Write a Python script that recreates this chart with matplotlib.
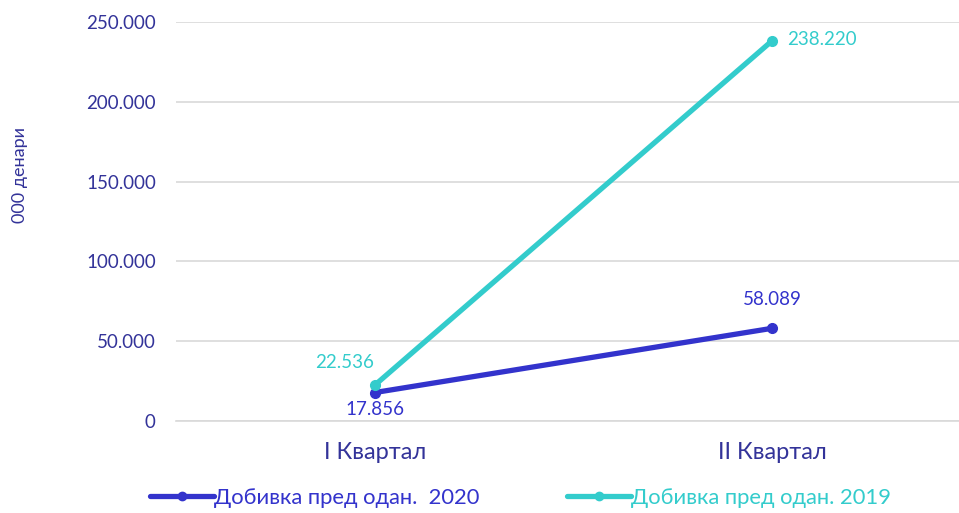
import matplotlib.pyplot as plt
from matplotlib.ticker import FuncFormatter

plt.rcParams["font.family"] = ["Lato", "DejaVu Sans"]

categories = ["I Квартал", "II Квартал"]
profit_2020 = [17856, 58089]
profit_2019 = [22536, 238220]
label_2020 = "Добивка пред одан.  2020"
label_2019 = "Добивка пред одан. 2019"
y_ticks = [0, 50000, 100000, 150000, 200000, 250000]

c2020 = "#3333cc"
c2019 = "#33cccc"
text_c = "#333399"


def fmt(v, pos=None):
    return f"{int(v):,}".replace(",", ".")


fig = plt.figure(figsize=(9.59, 5.13), dpi=100)
ax = fig.add_axes([0.1835, 0.1793, 0.8165, 0.7777])

x = list(range(len(categories)))
ax.plot(x, profit_2020, color=c2020, lw=3.8, marker="o", ms=7, label=label_2020, solid_capstyle="round")
ax.plot(x, profit_2019, color=c2019, lw=3.8, marker="o", ms=7, label=label_2019, solid_capstyle="round")

# подписи на вредностите
ax.annotate(fmt(profit_2020[0]), (0, profit_2020[0]), xytext=(0, -12), textcoords="offset points",
            ha="center", va="center", color=c2020, fontsize=13.5)
ax.annotate(fmt(profit_2020[1]), (1, profit_2020[1]), xytext=(0, 21), textcoords="offset points",
            ha="center", va="center", color=c2020, fontsize=13.5)
ax.annotate(fmt(profit_2019[0]), (0, profit_2019[0]), xytext=(-22, 16), textcoords="offset points",
            ha="center", va="center", color=c2019, fontsize=13.5)
ax.annotate(fmt(profit_2019[1]), (1, profit_2019[1]), xytext=(11, 1), textcoords="offset points",
            ha="left", va="center", color=c2019, fontsize=13.5)

ax.set_xlim(-0.501, 1.471)
ax.set_ylim(0, 250000)
ax.set_yticks(y_ticks)
ax.yaxis.set_major_formatter(FuncFormatter(fmt))
ax.set_xticks(x)
ax.set_xticklabels(categories)

ax.grid(True, axis="y", color="#d9d9d9", lw=1.2)
ax.set_axisbelow(True)
for s in ["top", "right", "left"]:
    ax.spines[s].set_visible(False)
ax.spines["bottom"].set_color("#d9d9d9")
ax.spines["bottom"].set_linewidth(1.2)
ax.tick_params(axis="both", length=0, labelcolor=text_c)
ax.tick_params(axis="y", pad=14.5, labelsize=13.5)
ax.tick_params(axis="x", labelsize=17, pad=15)

ax.set_ylabel("000 денари", color=text_c, fontsize=13)
ax.yaxis.set_label_coords(-0.189, 0.617)

leg = ax.legend(loc="center", bbox_to_anchor=(0.44, -0.193), ncol=2, frameon=False,
                fontsize=15.8, handlelength=2.9, handletextpad=0.0, columnspacing=4.0,
                labelcolor=[c2020, c2019])
for h in leg.legend_handles:
    h.set_markersize(6)

plt.savefig("out.png", dpi=100)
